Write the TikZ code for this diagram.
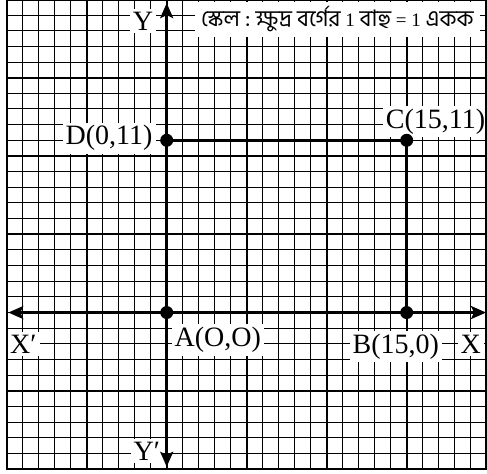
\documentclass[tikz,border=0pt]{standalone}
\usepackage{fontspec}
\setmainfont{Liberation Serif}
\newfontfamily\bengalifont[Script=Bengali, Scale=1.2]{Hind Siliguri}
\usetikzlibrary{arrows.meta}

\begin{document}
\begin{tikzpicture}[x=16pt, y=15.66pt,
  fineline/.style={line width=1pt},
  majorline/.style={line width=1.9pt},
  axisline/.style={line width=2.5pt, {Stealth[length=15pt,width=13pt,inset=3pt]}-{Stealth[length=15pt,width=13pt,inset=3pt]}},
  sideline/.style={line width=3.3pt},
  lbl/.style={fill=white, inner sep=3pt, anchor=base, font=\fontsize{28}{30}\selectfont}]

  \useasboundingbox (-10.42,-10.25) rectangle (20.02,19.96);

  % Graph paper
  \foreach \i in {-10,...,20} {
    \draw[fineline] (\i,-10) -- (\i,20);
    \draw[fineline] (-10,\i) -- (20,\i);
  }
  \foreach \i in {-10,-5,...,20} {
    \draw[majorline] (\i,-10) -- (\i,20);
    \draw[majorline] (-10,\i) -- (20,\i);
  }

  % Corners and axis ends
  \coordinate (A) at (0,0);
  \coordinate (B) at (15,0);
  \coordinate (C) at (15,11);
  \coordinate (D) at (0,11);
  \coordinate (xneg) at (-9.9,0);
  \coordinate (xpos) at (19.96,0);
  \coordinate (yneg) at (0,-9.85);
  \coordinate (ypos) at (0,19.76);

  % Labels
  \node[lbl] (ylab)  at (-1.48, 18.04) {Y};
  \node[lbl] (yplab) at (-1.25, -9.42) {Y′};
  \node[lbl] (xlab)  at (19.01, -2.59) {X};
  \node[lbl] (xplab) at (-8.96, -2.59) {X′};
  \node[lbl] (alab)  at (3.19, -2.18) {A(O,O)};
  \node[lbl] (blab)  at (14.32, -2.59) {B(15,0)};
  \node[lbl] (clab)  at (16.8, 11.78) {C(15,11)};
  \node[lbl] (dlab)  at (-3.6, 10.70) {D(0,11)};

  % Scale
  \node[lbl, font=\fontsize{19}{20}\selectfont, inner xsep=6pt, inner ysep=5pt] (scale) at (10.67, 18.25)
    {{\bengalifont স্কেল :\ ক্ষুদ্র বর্গের} 1 {\bengalifont বাহু} = 1 {\bengalifont একক}};

  % Axes
  \draw[axisline] (xneg) -- (xpos);
  \draw[axisline] (yneg) -- (ypos);

  % Rectangle
  \draw[sideline] (A) -- (D) -- (C) -- (B);
  \foreach \p in {A,B,C,D}
    \fill (\p) circle (6.5pt);

  % Frame
  \draw[line width=2.4pt] (-10,-10) rectangle (20,20);

\end{tikzpicture}
\end{document}
